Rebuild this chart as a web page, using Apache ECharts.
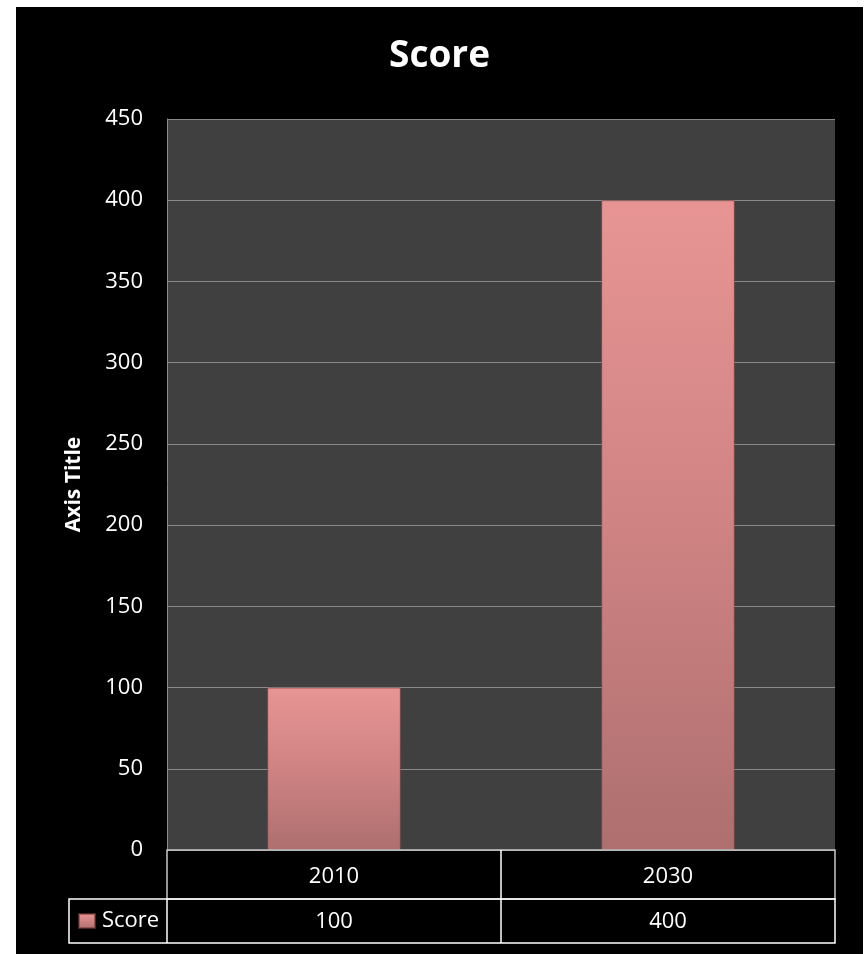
<!DOCTYPE html>
<html>
<head>
<meta charset="utf-8">
<script src="https://cdn.jsdelivr.net/npm/echarts@6/dist/echarts.min.js"></script>
<style>
html,body{margin:0;padding:0;background:#fff;}
#wrap{position:relative;width:866px;height:954px;background:#fff;}
#chart{position:absolute;left:16px;top:7px;width:847px;height:947px;background:#000;}
</style>
</head>
<body>
<div id="wrap"><div id="chart"></div></div>
<script>
var categories = ['2010', '2030'];
var scoreValues = [100, 400];
var seriesName = 'Score';
var chartTitle = 'Score';
var yAxisTitle = 'Axis Title';

var FONT = '"Open Sans", "Noto Sans", sans-serif';
var chart = echarts.init(document.getElementById('chart'), null, {renderer: 'canvas'});

var barGradient = new echarts.graphic.LinearGradient(0, 0, 0, 1, [
  {offset: 0, color: '#e89494'},
  {offset: 0.5, color: '#cf8383'},
  {offset: 1, color: '#ae6f6f'}
]);

var gL = 151, gR = 819, gT = 112, gB = 843;
var r1 = 892, r2 = 936, legL = 53;
var mid = (gL + gR) / 2;

chart.setOption({
  backgroundColor: '#000',
  animation: false,
  title: {
    text: chartTitle,
    left: 'center',
    top: 26,
    textStyle: {color: '#fff', fontSize: 37, fontWeight: 'bold', fontFamily: FONT}
  },
  legend: {
    left: 62,
    top: 903,
    padding: 0,
    itemWidth: 16,
    itemHeight: 14,
    itemGap: 4,
    icon: 'rect',
    textStyle: {color: '#fff', fontSize: 22, fontFamily: FONT, padding: [0, 0, 0, 2]},
    data: [seriesName]
  },
  grid: {
    left: gL, right: 847 - gR, top: gT, bottom: 947 - gB,
    show: true, backgroundColor: '#404040', borderWidth: 0
  },
  xAxis: [{
    type: 'category',
    data: categories,
    axisLine: {show: false},
    axisTick: {show: false},
    axisLabel: {color: '#fff', fontSize: 22, fontFamily: FONT, margin: 16}
  }, {
    type: 'category',
    position: 'bottom',
    data: scoreValues.map(String),
    axisLine: {show: false},
    axisTick: {show: false},
    axisLabel: {color: '#fff', fontSize: 22, fontFamily: FONT, margin: 61}
  }],
  yAxis: {
    type: 'value',
    min: 0, max: 450, interval: 50,
    name: yAxisTitle,
    nameLocation: 'middle',
    nameGap: 82,
    nameTextStyle: {color: '#fff', fontSize: 21, fontWeight: 'bold', fontFamily: FONT},
    axisLine: {show: true, lineStyle: {color: '#8c8c8c', width: 1}},
    axisTick: {show: false},
    axisLabel: {color: '#fff', fontSize: 22, fontFamily: FONT, margin: 24},
    splitLine: {lineStyle: {color: '#8a8a8a', width: 1}}
  },
  series: [{
    name: seriesName,
    type: 'bar',
    data: scoreValues,
    barWidth: '40%',
    itemStyle: {
      color: barGradient,
      borderColor: 'rgba(120,60,60,0.6)',
      borderWidth: 1
    }
  }],
  graphic: [
    {type: 'rect', shape: {x: gL, y: gB, width: gR - gL, height: r1 - gB}, style: {fill: null, stroke: '#c8c8c8', lineWidth: 1.5}, z: 100},
    {type: 'rect', shape: {x: legL, y: r1, width: gR - legL, height: r2 - r1}, style: {fill: null, stroke: '#ffffff', lineWidth: 1.5}, z: 100},
    {type: 'line', shape: {x1: gL, y1: r1, x2: gL, y2: r2}, style: {stroke: '#ffffff', lineWidth: 1.5}, z: 100},
    {type: 'line', shape: {x1: mid, y1: gB, x2: mid, y2: r2}, style: {stroke: '#ffffff', lineWidth: 1.5}, z: 100}
  ]
});
</script>
</body>
</html>
